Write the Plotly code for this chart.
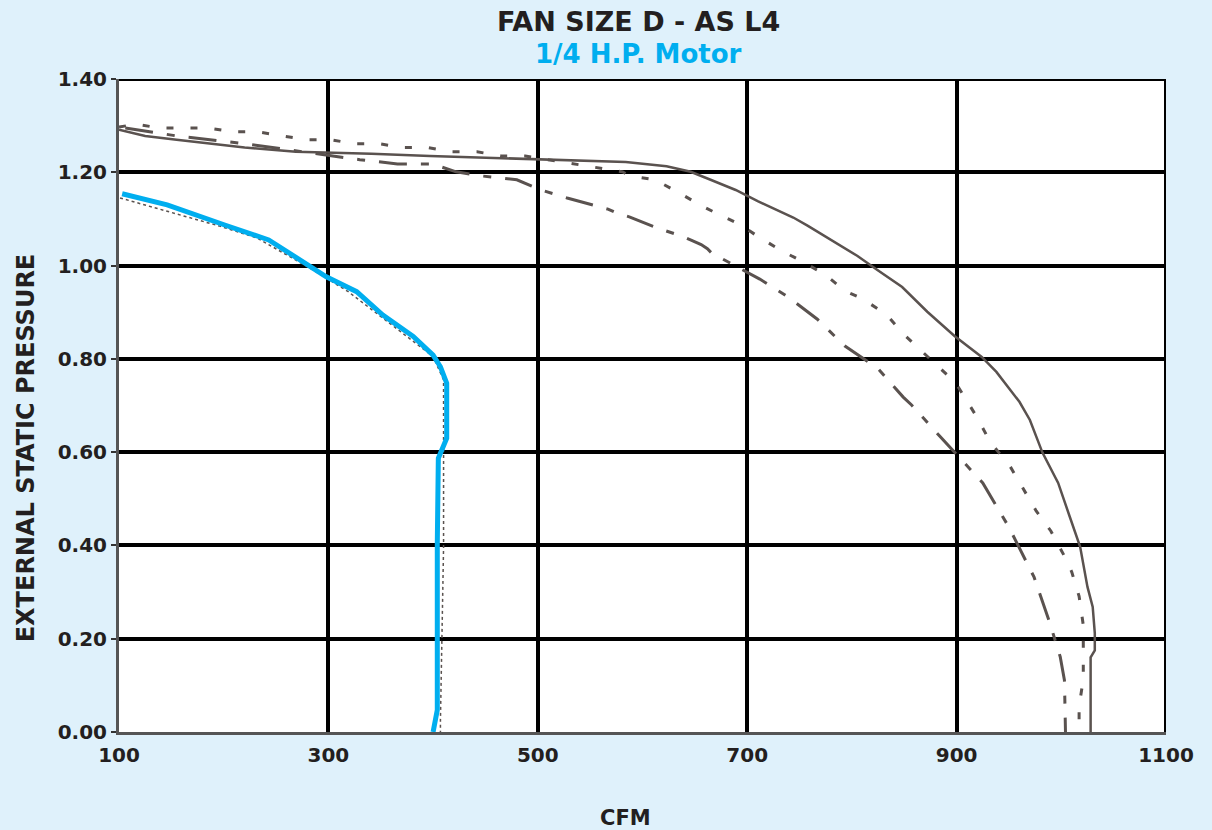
import plotly.graph_objects as go

# ---------------- data ----------------
x_ticks = [100, 300, 500, 700, 900, 1100]
y_ticks = [0.0, 0.2, 0.4, 0.6, 0.8, 1.0, 1.2, 1.4]

# outer solid curve
solid_cfm = [100, 125, 155, 188, 220, 269, 341, 397, 452, 521, 584, 623, 646, 665, 689,
             710, 728, 744, 758, 782, 805, 824, 848, 872, 898, 924, 938, 960, 970, 982,
             997, 1008, 1018, 1025, 1030, 1032, 1032, 1028, 1028]
solid_esp = [1.291, 1.278, 1.270, 1.261, 1.253, 1.244, 1.240, 1.235, 1.231, 1.227, 1.222,
             1.213, 1.201, 1.184, 1.162, 1.138, 1.120, 1.103, 1.085, 1.053, 1.021, 0.991,
             0.954, 0.901, 0.849, 0.804, 0.772, 0.708, 0.669, 0.599, 0.534, 0.462, 0.397,
             0.311, 0.268, 0.212, 0.175, 0.160, 0.0]

# short-dash curve
dash_cfm = [100, 116, 139, 185, 209, 232, 255, 279, 302, 325, 349, 371, 395, 418, 442, 465,
            488, 535, 558, 581, 588, 612, 635, 654, 669, 693, 712, 731, 755, 776, 793, 810,
            833, 848, 865, 883, 899, 920, 932, 951, 968, 976, 990, 1003, 1010, 1017, 1021,
            1021, 1021, 1017, 1017]
dash_esp = [1.297, 1.303, 1.295, 1.295, 1.287, 1.287, 1.278, 1.270, 1.270, 1.261, 1.261,
            1.253, 1.253, 1.244, 1.244, 1.235, 1.235, 1.218, 1.210, 1.201, 1.192, 1.184,
            1.156, 1.131, 1.114, 1.088, 1.060, 1.034, 1.006, 0.978, 0.946, 0.929, 0.895,
            0.856, 0.820, 0.783, 0.749, 0.673, 0.622, 0.570, 0.506, 0.474, 0.431, 0.377,
            0.343, 0.291, 0.229, 0.169, 0.113, 0.055, 0.0]

# long dash-dot curve
dashdot_cfm = [106, 131, 155, 221, 308, 330, 366, 399, 422, 447, 480, 503, 528, 542, 567,
               575, 588, 616, 639, 648, 656, 662, 666, 689, 712, 739, 767, 793, 825, 849,
               857, 884, 909, 925, 950, 974, 989, 999, 1003, 1004, 1004]
dashdot_esp = [1.295, 1.287, 1.278, 1.261, 1.235, 1.227, 1.218, 1.218, 1.201, 1.192, 1.184,
               1.162, 1.145, 1.136, 1.121, 1.113, 1.104, 1.079, 1.062, 1.053, 1.045, 1.036,
               1.027, 0.999, 0.971, 0.933, 0.885, 0.828, 0.779, 0.718, 0.701, 0.634, 0.574,
               0.534, 0.439, 0.332, 0.234, 0.161, 0.111, 0.036, 0.0]

# dotted curve under the motor curve
dot_cfm = [101, 146, 197, 232, 259, 285, 319, 356, 388, 400, 410, 410, 410, 407, 407]
dot_esp = [1.145, 1.116, 1.084, 1.059, 1.025, 0.991, 0.944, 0.880, 0.826, 0.805, 0.755,
           0.619, 0.397, 0.025, 0.0]

# 1/4 H.P. motor curve (blue)
motor_cfm = [103, 146, 201, 243, 298, 327, 352, 381, 400, 407, 413, 413, 405, 404, 404, 400]
motor_esp = [1.154, 1.130, 1.087, 1.055, 0.976, 0.944, 0.894, 0.848, 0.808, 0.783, 0.748,
             0.630, 0.587, 0.404, 0.047, 0.0]

# ---------------- style ----------------
BG = "#dff1fb"
GRAY = "#5a524f"
BLUE = "#00aeef"
TXT = "#231f20"
FONT = "DejaVu Sans"

fig = go.Figure()
fig.add_trace(go.Scatter(x=solid_cfm, y=solid_esp, mode="lines",
                         line=dict(color=GRAY, width=2.5), showlegend=False))
fig.add_trace(go.Scatter(x=dash_cfm, y=dash_esp, mode="lines",
                         line=dict(color=GRAY, width=3, dash="7px,17px"), showlegend=False))
fig.add_trace(go.Scatter(x=dashdot_cfm, y=dashdot_esp, mode="lines",
                         line=dict(color=GRAY, width=3, dash="28px,14px,8px,14px"),
                         showlegend=False))
fig.add_trace(go.Scatter(x=dot_cfm, y=dot_esp, mode="lines",
                         line=dict(color=GRAY, width=1.5, dash="dot"), showlegend=False))
fig.add_trace(go.Scatter(x=motor_cfm, y=motor_esp, mode="lines",
                         line=dict(color=BLUE, width=5), showlegend=False))

fig.update_layout(
    width=1212, height=830,
    paper_bgcolor=BG, plot_bgcolor="white",
    margin=dict(l=119, r=46, t=79, b=98),
    font=dict(family=FONT, color=TXT),
    annotations=[
        dict(text="FAN SIZE D - AS L4", x=0.496, y=1.0873, xref="paper", yref="paper",
             xanchor="center", yanchor="middle", showarrow=False,
             font=dict(family=FONT, size=27, color=TXT, weight="bold")),
        dict(text="1/4 H.P. Motor", x=0.496, y=1.0383, xref="paper", yref="paper",
             xanchor="center", yanchor="middle", showarrow=False,
             font=dict(family=FONT, size=26, color=BLUE, weight="bold")),
        dict(text="CFM", x=0.484, y=-0.131, xref="paper", yref="paper",
             xanchor="center", yanchor="middle", showarrow=False,
             font=dict(family=FONT, size=21, color=TXT, weight="bold")),
        dict(text="EXTERNAL STATIC PRESSURE", x=-0.0885, y=0.435, xref="paper",
             yref="paper", xanchor="center", yanchor="middle", showarrow=False,
             textangle=-90, font=dict(family=FONT, size=24, color=TXT, weight="bold")),
    ],
)

fig.update_xaxes(range=[100, 1100], tickvals=x_ticks, showgrid=True, gridcolor="black",
                 gridwidth=4, showline=True, linecolor="#555", linewidth=3, zeroline=False,
                 ticks="", ticklabelstandoff=3,
                 tickfont=dict(family=FONT, size=20, color=TXT, weight="bold"))
fig.update_yaxes(range=[0, 1.4], tickvals=y_ticks, tickformat=".2f", showgrid=True,
                 gridcolor="black", gridwidth=4, showline=True, linecolor="#555",
                 linewidth=3, zeroline=False, ticks="outside", ticklen=5, tickwidth=2,
                 tickcolor="#333",
                 tickfont=dict(family=FONT, size=20, color=TXT, weight="bold"))

# black frame at the right and top (same as grid)
fig.add_shape(type="line", x0=1100, x1=1100, y0=0, y1=1.4, xref="x", yref="y",
              line=dict(color="black", width=4), layer="below")
fig.add_shape(type="line", x0=100, x1=1100, y0=1.4, y1=1.4, xref="x", yref="y",
              line=dict(color="black", width=4), layer="below")

fig.write_html(
    "out.html",
    config={"displayModeBar": False},
    post_script=(
        "document.body.style.margin='0';"
        "document.body.style.overflow='hidden';"
        "document.body.style.background='" + BG + "';"
    ),
)
